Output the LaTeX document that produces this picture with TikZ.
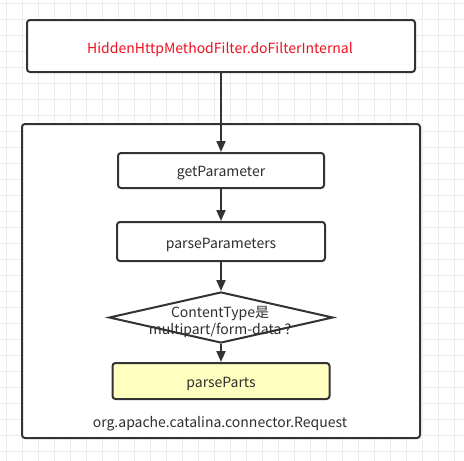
\documentclass[tikz,border=0pt]{standalone}
\usepackage{fontspec}
\setmainfont{Noto Sans CJK SC}
\usetikzlibrary{shapes.geometric,arrows.meta}
\definecolor{stroke}{HTML}{333333}
\definecolor{gridc}{HTML}{EDEDED}
\definecolor{yel}{HTML}{FFFFC0}
\definecolor{redt}{HTML}{F0101E}
\tikzset{
  box/.style={draw=stroke, line width=2pt, rounded corners=3pt, fill=white, inner sep=0pt},
  flow/.style={draw=stroke, line width=2pt, -{Triangle[length=11pt,width=9pt]}},
  txt/.style={font=\fontsize{14}{17}\selectfont, text=stroke!90!black}
}
\begin{document}
\begin{tikzpicture}[x=1pt,y=-1pt]
\useasboundingbox (0,0) rectangle (464,461);
\fill[white] (0,0) rectangle (464,461);
\foreach \gx in {6,22,...,464} \draw[gridc, line width=0.8pt] (\gx,0) -- (\gx,461);
\foreach \gy in {3,19,...,461} \draw[gridc, line width=0.8pt] (0,\gy) -- (464,\gy);
% outer container
\node[box, minimum width=398pt, minimum height=314pt, anchor=north west] (outer) at (21,123) {};
\node[txt] (req) at (220,424) {org.apache.catalina.connector.Request};
% top box
\node[box, minimum width=388pt, minimum height=52pt] (top) at (221,46) {};
\node[txt, text=redt] (toptxt) at (220,49.5) {HiddenHttpMethodFilter.doFilterInternal};
% steps
\node[box, minimum width=206pt, minimum height=35pt] (getp) at (221,170.5) {};
\node[txt, yshift=-3pt] (getptxt) at (getp) {getParameter};
\node[box, minimum width=208pt, minimum height=39pt] (parsep) at (221,241.5) {};
\node[txt, yshift=-3pt] (parseptxt) at (parsep) {parseParameters};
\node[draw=stroke, line width=2pt, diamond, fill=white, minimum width=224pt, minimum height=51pt, inner sep=0pt] (dec) at (221,317.5) {};
\node[txt, align=center] (dectxt) at (220,322) {ContentType是\\multipart/form-data ?};
\node[box, fill=yel, minimum width=217pt, minimum height=36pt] (pp) at (221,381) {};
\node[txt, yshift=-3pt] (pptxt) at (pp) {parseParts};
% connectors
\draw[flow] (top.south) -- (getp.north);
\draw[flow] (getp.south) -- (parsep.north);
\draw[flow] (parsep.south) -- (dec.north);
\draw[flow] (dec.south) -- (pp.north);
\end{tikzpicture}
\end{document}
